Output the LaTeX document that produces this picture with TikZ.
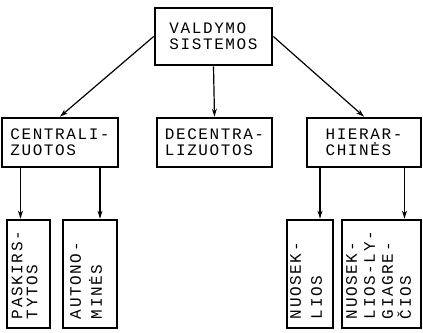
\documentclass[tikz,border=0pt]{standalone}
\usepackage{fontspec}
\usepackage{tikz}
\usetikzlibrary{calc,arrows.meta}
\newfontfamily\typfont[LetterSpace=10]{Liberation Mono}

\tikzset{
  sysbox/.style={draw, line width=2.7pt, align=left, inner sep=0pt,
    font=\typfont\fontsize{16}{16}\selectfont},
  vtext/.style={rotate=90, anchor=west, align=left, inner sep=0pt,
    font=\typfont\fontsize{16}{#1}\selectfont},
  vtext/.default=18,
  arr/.style={line width=1.2pt, -{Stealth[length=8pt,width=5pt]}}
}

\begin{document}
\begin{tikzpicture}[x=1pt, y=-1pt]
    \useasboundingbox (0,0) rectangle (423,332);

    % Draw the top box
    \node[sysbox, minimum width=117, minimum height=57] (top) at (213.5,36.5) {VALDYMO\\SISTEMOS};

    % Draw the second row
    \node[sysbox, minimum width=116, minimum height=49] (cen) at (60,142.5) {CENTRALI-\\ZUOTOS};
    \node[sysbox, minimum width=115, minimum height=49] (dec) at (214.5,142.5) {DECENTRA-\\LIZUOTOS};
    \node[sysbox, minimum width=114, minimum height=49] (hie) at (364,142.5) {HIERAR-\\CHINĖS};

    % Draw the third row (upright boxes)
    \node[sysbox, minimum width=43, minimum height=108] (pask) at (28.5,274) {};
    \node[sysbox, minimum width=54, minimum height=108] (aut) at (90,274) {};
    \node[sysbox, minimum width=46, minimum height=108] (nuo) at (310,274) {};
    \node[sysbox, minimum width=79, minimum height=108] (nly) at (381.5,274) {};

    % Add the rotated labels
    \node[vtext=15] (paskt) at ([xshift=-4pt,yshift=10pt]pask.south) {PASKIRS-\\TYTOS};
    \node[vtext=21] (autt) at ([xshift=-4pt,yshift=10pt]aut.south) {AUTONO-\\MINĖS};
    \node[vtext=21] (nuot) at ([xshift=-4pt,yshift=10pt]nuo.south) {NUOSEK-\\LIOS};
    \node[vtext] (nlyt) at ([xshift=-3pt,yshift=10pt]nly.south) {NUOSEK-\\LIOS-LY-\\GIAGRE-\\ČIOS};

    % Draw the arrows
    \draw[arr] (top.west) -- (cen.north);
    \draw[arr] (top.south) -- (dec.north);
    \draw[arr] (top.east) -- (hie.north);
    \foreach \from/\to/\dx in {cen/pask/-8, cen/aut/10, hie/nuo/10, hie/nly/23} {
        \draw[arr] ([xshift=\dx pt]\to.north |- \from.south) -- ([xshift=\dx pt]\to.north);
    }
\end{tikzpicture}
\end{document}
